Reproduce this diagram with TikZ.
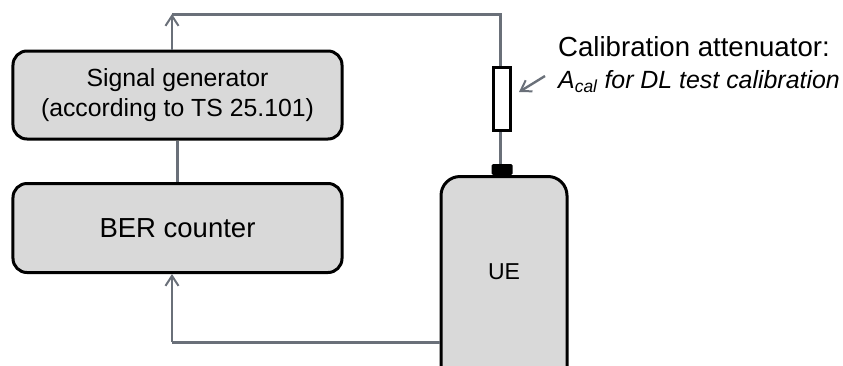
\documentclass[tikz,border=0pt]{standalone}
\usepackage{fontspec}
\setmainfont{Liberation Sans}
\usetikzlibrary{arrows.meta}
\definecolor{boxfill}{HTML}{D9D9D9}
\definecolor{wire}{HTML}{6A7079}
\tikzset{
  devbox/.style={draw=black,line width=3bp,fill=boxfill,rounded corners=14bp,inner sep=0pt,align=center,text=black},
  wireline/.style={draw=wire,line width=3bp},
  wirearrow/.style={draw=wire,line width=2.4bp,-{Straight Barb[length=10bp,width=13bp,line width=2bp]}},
  label/.style={inner sep=0pt,anchor=base west,text=black}
}
\begin{document}
\begin{tikzpicture}[x=1bp,y=-1bp]
\useasboundingbox (0,0) rectangle (843,365);
\begin{scope}
\clip (0,0) rectangle (843,365);
\coordinate (topleft) at (172,14);
\coordinate (topright) at (500.5,14);
\coordinate (bendlow) at (150,342);
\node[devbox,minimum width=329bp,minimum height=88bp,font=\fontsize{24.8bp}{30bp}\selectfont] (sig) at (177.5,95) {Signal generator\\(according to TS 25.101)};
\node[devbox,minimum width=329bp,minimum height=89bp,font=\fontsize{27.5bp}{32bp}\selectfont] (ber) at (177.5,228) {BER counter};
\node[fill=black,rounded corners=1.5bp,minimum width=21bp,minimum height=11bp,inner sep=0pt] (conn) at (502,169.5) {};
\node[devbox,rounded corners=19bp,minimum width=126bp,minimum height=220bp,anchor=north] (ue) at (504,175) {};
\node[text=black,inner sep=0pt,font=\fontsize{23bp}{26bp}\selectfont] (uetext) at (504,272) {UE};
\end{scope}
\node[draw=black,line width=3bp,fill=white,minimum width=17bp,minimum height=63bp,inner sep=0pt] (att) at (502,99) {};
% connectors
\draw[wirearrow] (sig.north -| topleft) -- (topleft);
\draw[wireline,line join=miter] (topleft) -- (topright) -- (att.north -| topright);
\draw[wireline] (att.south -| topright) -- (conn.north -| topright);
\draw[wireline] (sig.south) -- (ber.north);
\draw[wireline] (ue.west |- bendlow) -- (bendlow -| topleft);
\draw[wirearrow] (bendlow -| topleft) -- (ber.south -| topleft);
% labels
\node[label,font=\fontsize{27.6bp}{30bp}\selectfont] (cal) at (558,56) {Calibration attenuator:};
\node[label,font=\fontsize{24.9bp}{28bp}\selectfont\itshape] (acal) at (558,88) {A\textsubscript{cal} for DL test calibration};
\coordinate (ptrstart) at (545,76);
\coordinate (ptrend) at (519,92);
\draw[wirearrow] (ptrstart) -- (ptrend);
\end{tikzpicture}
\end{document}
